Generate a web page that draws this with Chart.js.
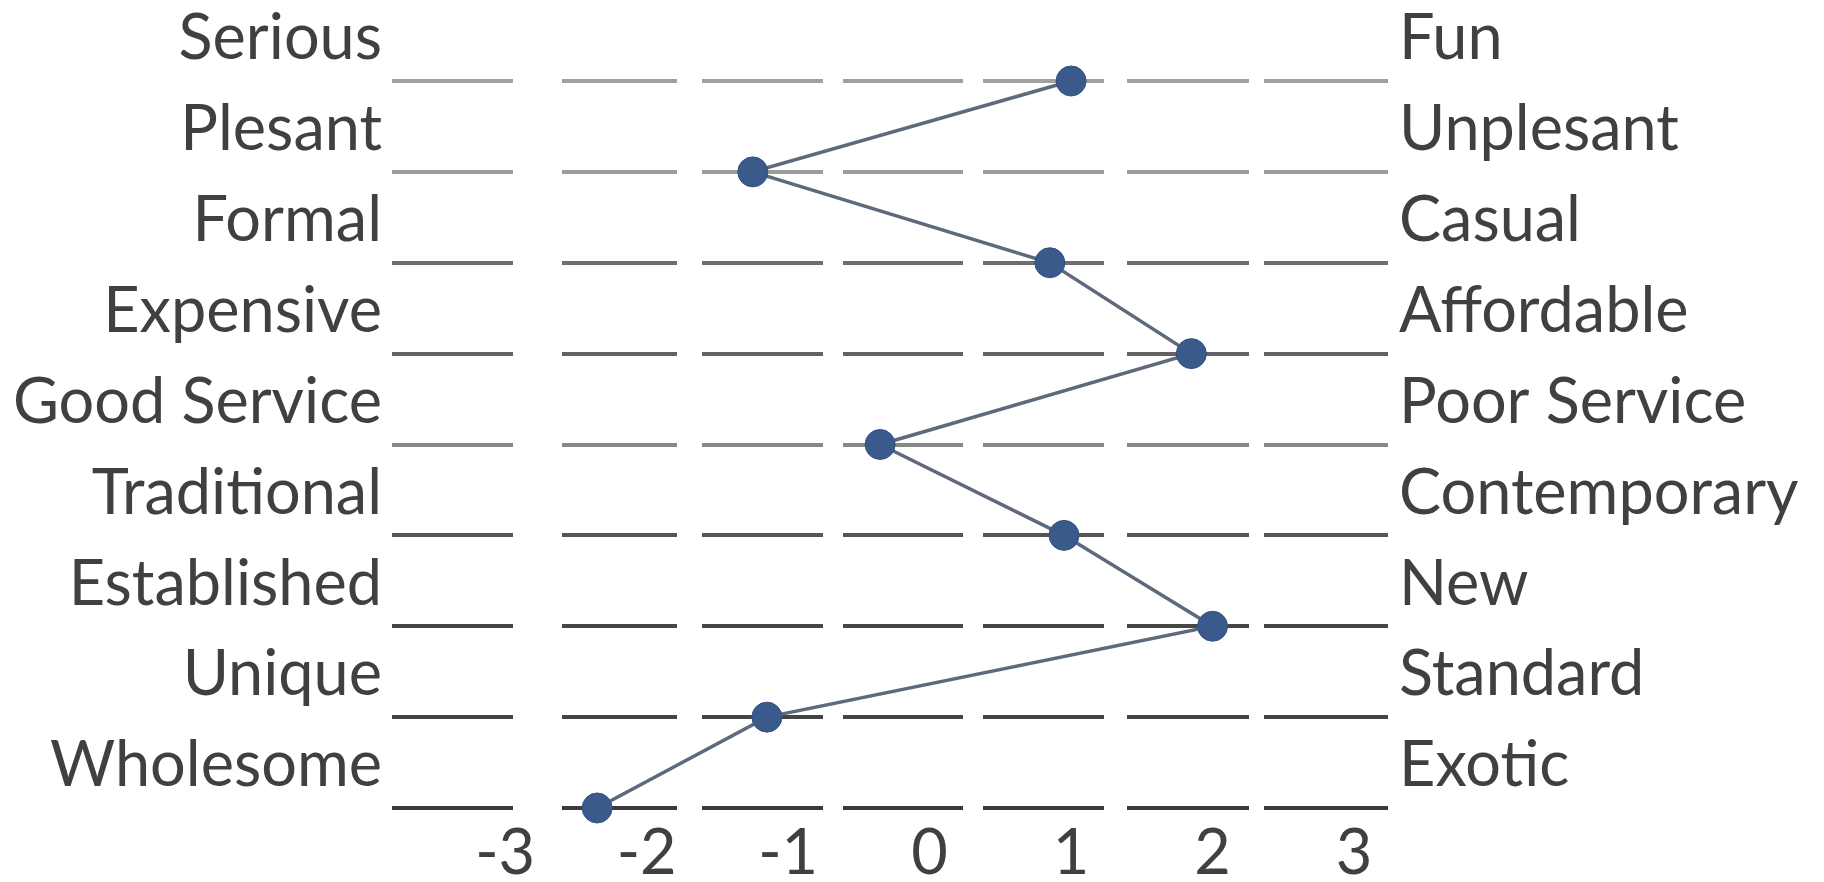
<!DOCTYPE html>
<html lang="en">
<head>
<meta charset="UTF-8">
<script src="https://cdn.jsdelivr.net/npm/chart.js"></script>
<title>Semantic differential</title>
<style>
    html, body { margin: 0; padding: 0; background: #ffffff; }
    canvas { display: block; }
</style>
</head>
<body>
<canvas id="grafico" width="1824" height="882"></canvas>
<script>
    // rotulos de cada linha (esquerda e direita) e as notas
    const leftLabels = ['Serious', 'Plesant', 'Formal', 'Expensive', 'Good Service', 'Traditional', 'Established', 'Unique', 'Wholesome'];
    const rightLabels = ['Fun', 'Unplesant', 'Casual', 'Affordable', 'Poor Service', 'Contemporary', 'New', 'Standard', 'Exotic'];
    const scores = [1.0, -1.25, 0.85, 1.85, -0.35, 0.95, 2.0, -1.15, -2.35];
    const xTicks = [-3, -2, -1, 0, 1, 2, 3];

    const rows = leftLabels.map((_, i) => i);
    const lineColors = ['#a0a0a0', '#9c9c9c', '#6e6e6e', '#626262', '#878787', '#555555', '#474747', '#444444', '#3a3a3a'];
    // tracejado das linhas (segmentos e espacos, em px)
    const tracejado = [121, 49, 115, 25, 121, 20, 120, 20, 121, 23, 122, 15, 124, 200];

    const fonte = { family: 'Lato', size: 63 };
    const corTexto = '#404040';

    const ctx = document.getElementById('grafico').getContext('2d');
    new Chart(ctx, {
        type: 'scatter',
        data: {
            datasets: [{
                data: scores.map((v, i) => ({ x: v, y: rows[i] })),
                showLine: true,
                borderColor: '#5e6a7c',
                borderWidth: 3.5,
                pointRadius: 15,
                pointBackgroundColor: '#3a5a8c',
                pointBorderColor: '#33517f',
                pointBorderWidth: 1,
                clip: false
            }]
        },
        options: {
            responsive: false,
            animation: false,
            layout: { padding: { top: 81, left: 0, right: 0, bottom: 0 } },
            plugins: {
                legend: { display: false },
                tooltip: { enabled: false }
            },
            scales: {
                x: {
                    type: 'linear',
                    min: -3.8,
                    max: 3.24,
                    afterBuildTicks: axis => { axis.ticks = xTicks.map(v => ({ value: v })); },
                    afterFit: axis => { axis.height = 74; },
                    grid: { display: false, drawTicks: false },
                    border: { display: false },
                    ticks: { font: fonte, color: corTexto, padding: 8, maxRotation: 0 }
                },
                y: {
                    type: 'linear',
                    position: 'left',
                    reverse: true,
                    min: 0,
                    max: 8,
                    afterBuildTicks: axis => { axis.ticks = rows.map(v => ({ value: v })); },
                    afterFit: axis => { axis.width = 392; },
                    grid: {
                        color: c => lineColors[c.index],
                        lineWidth: 4,
                        drawTicks: false
                    },
                    border: { display: false, dash: tracejado, dashOffset: 0 },
                    ticks: {
                        font: fonte,
                        color: corTexto,
                        padding: 10,
                        labelOffset: -42,
                        callback: v => leftLabels[v]
                    }
                },
                y2: {
                    type: 'linear',
                    position: 'right',
                    reverse: true,
                    min: 0,
                    max: 8,
                    afterBuildTicks: axis => { axis.ticks = rows.map(v => ({ value: v })); },
                    afterFit: axis => { axis.width = 436; },
                    grid: { display: false, drawTicks: false },
                    border: { display: false },
                    ticks: {
                        font: fonte,
                        color: corTexto,
                        padding: 11,
                        labelOffset: -42,
                        callback: v => rightLabels[v]
                    }
                }
            }
        }
    });
</script>
</body>
</html>
